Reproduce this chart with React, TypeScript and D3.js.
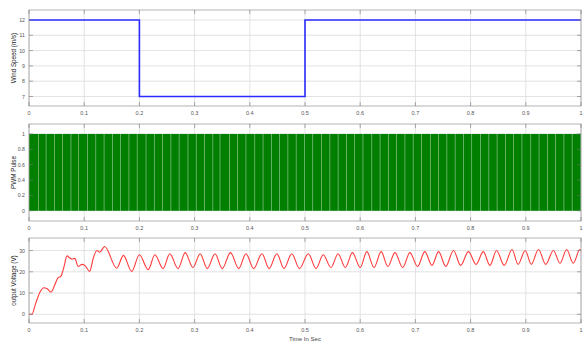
import React from "react";
import * as d3 from "d3";

// wind speed step input (time, m/s)
const windTimes = [0, 0.2, 0.2, 0.5, 0.5, 1];
const windValues = [12, 12, 7, 7, 12, 12];

// PWM: instants where the pulse briefly drops to 0
const pwmGaps = [
  0.017, 0.031, 0.046, 0.061, 0.076, 0.09, 0.106, 0.121, 0.136, 0.151, 0.166,
  0.181, 0.196, 0.212, 0.227, 0.242, 0.257, 0.272, 0.288, 0.303, 0.318, 0.333,
  0.346, 0.363, 0.378, 0.393, 0.409, 0.424, 0.439, 0.454, 0.469, 0.484, 0.499,
  0.514, 0.53, 0.545, 0.56, 0.575, 0.59, 0.605, 0.621, 0.636, 0.651, 0.666,
  0.681, 0.696, 0.711, 0.727, 0.742, 0.757, 0.772, 0.787, 0.802, 0.818, 0.833,
  0.848, 0.863, 0.878, 0.893, 0.909, 0.924, 0.939, 0.954, 0.969, 0.984,
];

// output voltage (time, V)
const voltTimes = [
  0, 0.005, 0.012, 0.02, 0.027, 0.033, 0.04, 0.047, 0.052, 0.058, 0.063, 0.069,
  0.074, 0.078, 0.083, 0.089, 0.096, 0.101, 0.11, 0.116, 0.123, 0.128, 0.137,
  0.159, 0.171, 0.186, 0.2, 0.216, 0.228, 0.243, 0.255, 0.27, 0.283, 0.297,
  0.31, 0.323, 0.337, 0.35, 0.365, 0.38, 0.393, 0.407, 0.422, 0.435, 0.449,
  0.462, 0.476, 0.49, 0.506, 0.52, 0.533, 0.547, 0.56, 0.573, 0.586, 0.6,
  0.612, 0.625, 0.638, 0.65, 0.663, 0.677, 0.69, 0.704, 0.717, 0.73, 0.742,
  0.755, 0.769, 0.782, 0.796, 0.81, 0.823, 0.835, 0.847, 0.861, 0.875, 0.886,
  0.899, 0.91, 0.923, 0.936, 0.95, 0.962, 0.974, 0.986, 0.998, 1,
];
const voltValues = [
  0, 0, 5, 10.5, 12.5, 12, 10.5, 14, 17, 18, 22, 27.5,
  26.5, 26, 26.3, 22.5, 23.5, 23, 20.2, 26, 30, 29.2, 31.9,
  21.7, 27.7, 20.2, 28, 21, 28, 21.5, 28.5, 21.5, 29, 22,
  28.5, 21.5, 28.5, 21.5, 29, 21.5, 28.5, 21.5, 28.5, 21.5, 28.5,
  21.5, 28.5, 21.5, 28.5, 21.5, 28, 22, 28.5, 22, 29, 22,
  29.5, 22, 29.5, 22.5, 29, 22, 29, 22.5, 29.5, 23, 29.5,
  22.5, 30, 23, 29.5, 23.5, 29.5, 23, 30, 23, 30.5, 23.5,
  30, 23.5, 30.5, 23.5, 30, 24, 30.5, 24, 30.5, 30,
];

const xTicks = [0, 0.1, 0.2, 0.3, 0.4, 0.5, 0.6, 0.7, 0.8, 0.9, 1];
const windTicks = [7, 8, 9, 10, 11, 12];
const pwmTicks = [0, 0.2, 0.4, 0.6, 0.8, 1];
const voltTicks = [0, 10, 20, 30];

const W = 587;
const H = 344;
const left = 29;
const right = 581;
const font = "Liberation Sans, Arial, sans-serif";

const x = d3.scaleLinear().domain([0, 1]).range([left, right]);

const panels = [
  { top: 10, bottom: 106, domain: [6.38, 12.65], ticks: windTicks, label: "Wind Speed (m/s)" },
  { top: 124, bottom: 221, domain: [-0.134, 1.13], ticks: pwmTicks, label: "PWM Pulse" },
  { top: 238, bottom: 323, domain: [-4.1, 35.9], ticks: voltTicks, label: "output Voltage (V)" },
];

function Frame({ p, y }) {
  return (
    <g>
      {xTicks.map((t) => (
        <line key={"gx" + t} x1={x(t)} x2={x(t)} y1={p.top} y2={p.bottom} stroke="#dcdcdc" strokeWidth={0.8} />
      ))}
      {p.ticks.map((t) => (
        <line key={"gy" + t} x1={left} x2={right} y1={y(t)} y2={y(t)} stroke="#dcdcdc" strokeWidth={0.8} />
      ))}
    </g>
  );
}

function Axes({ p, y }) {
  return (
    <g fontFamily={font} fill="#555">
      <rect x={left} y={p.top} width={right - left} height={p.bottom - p.top} fill="none" stroke="#a0a0a0" strokeWidth={0.8} />
      {xTicks.map((t) => (
        <g key={"tx" + t}>
          <line x1={x(t)} x2={x(t)} y1={p.bottom} y2={p.bottom - 4} stroke="#777" strokeWidth={0.6} />
          <line x1={x(t)} x2={x(t)} y1={p.top} y2={p.top + 4} stroke="#777" strokeWidth={0.6} />
          <text x={x(t)} y={p.bottom + 9} fontSize={5.5} textAnchor="middle">
            {d3.format("~g")(t)}
          </text>
        </g>
      ))}
      {p.ticks.map((t) => (
        <g key={"ty" + t}>
          <line x1={left} x2={left + 4} y1={y(t)} y2={y(t)} stroke="#777" strokeWidth={0.6} />
          <line x1={right} x2={right - 4} y1={y(t)} y2={y(t)} stroke="#777" strokeWidth={0.6} />
          <text x={left - 4} y={y(t) + 2} fontSize={5.2} textAnchor="end">
            {d3.format("~g")(t)}
          </text>
        </g>
      ))}
      <text
        transform={`translate(16, ${(p.top + p.bottom) / 2}) rotate(-90)`}
        fontSize={6.3}
        fill="#222"
        textAnchor="middle"
      >
        {p.label}
      </text>
    </g>
  );
}

export default function App() {
  const ys = panels.map((p) => d3.scaleLinear().domain(p.domain).range([p.bottom, p.top]));

  const windLine = d3
    .line<number>()
    .x((_, i) => x(windTimes[i]))
    .y((d) => ys[0](d));

  const voltLine = d3
    .line<number>()
    .x((_, i) => x(voltTimes[i]))
    .y((d) => ys[2](d))
    .curve(d3.curveMonotoneX);

  // on-intervals between the gaps
  const edges = [0, ...pwmGaps, 1];
  const pulses = edges.slice(0, -1).map((s, i) => ({ start: s, end: edges[i + 1] }));
  const gap = 0.7;

  return (
    <svg width={W} height={H} style={{ position: "absolute", left: 0, top: 0, background: "#fff" }}>
      {panels.map((p, i) => (
        <Frame key={"f" + i} p={p} y={ys[i]} />
      ))}

      <path d={windLine(windValues) || ""} fill="none" stroke="#2b2bff" strokeWidth={1.6} />

      <g>
        <rect
          x={x(0)}
          width={x(1) - x(0)}
          y={ys[1](1)}
          height={ys[1](0) - ys[1](1)}
          fill="#8fc48f"
        />
        {pulses.map((d, i) => (
          <rect
            key={i}
            x={x(d.start) + (i === 0 ? 0 : gap / 2)}
            width={Math.max(0, x(d.end) - x(d.start) - (i === 0 ? gap / 2 : gap))}
            y={ys[1](1)}
            height={ys[1](0) - ys[1](1)}
            fill="#007f00"
          />
        ))}
      </g>

      <path d={voltLine(voltValues) || ""} fill="none" stroke="#ff3b3b" strokeWidth={1.1} />

      {panels.map((p, i) => (
        <Axes key={"a" + i} p={p} y={ys[i]} />
      ))}

      <text x={x(0.5)} y={341} fontFamily={font} fontSize={6} fill="#444" textAnchor="middle">
        Time In Sec
      </text>
    </svg>
  );
}
